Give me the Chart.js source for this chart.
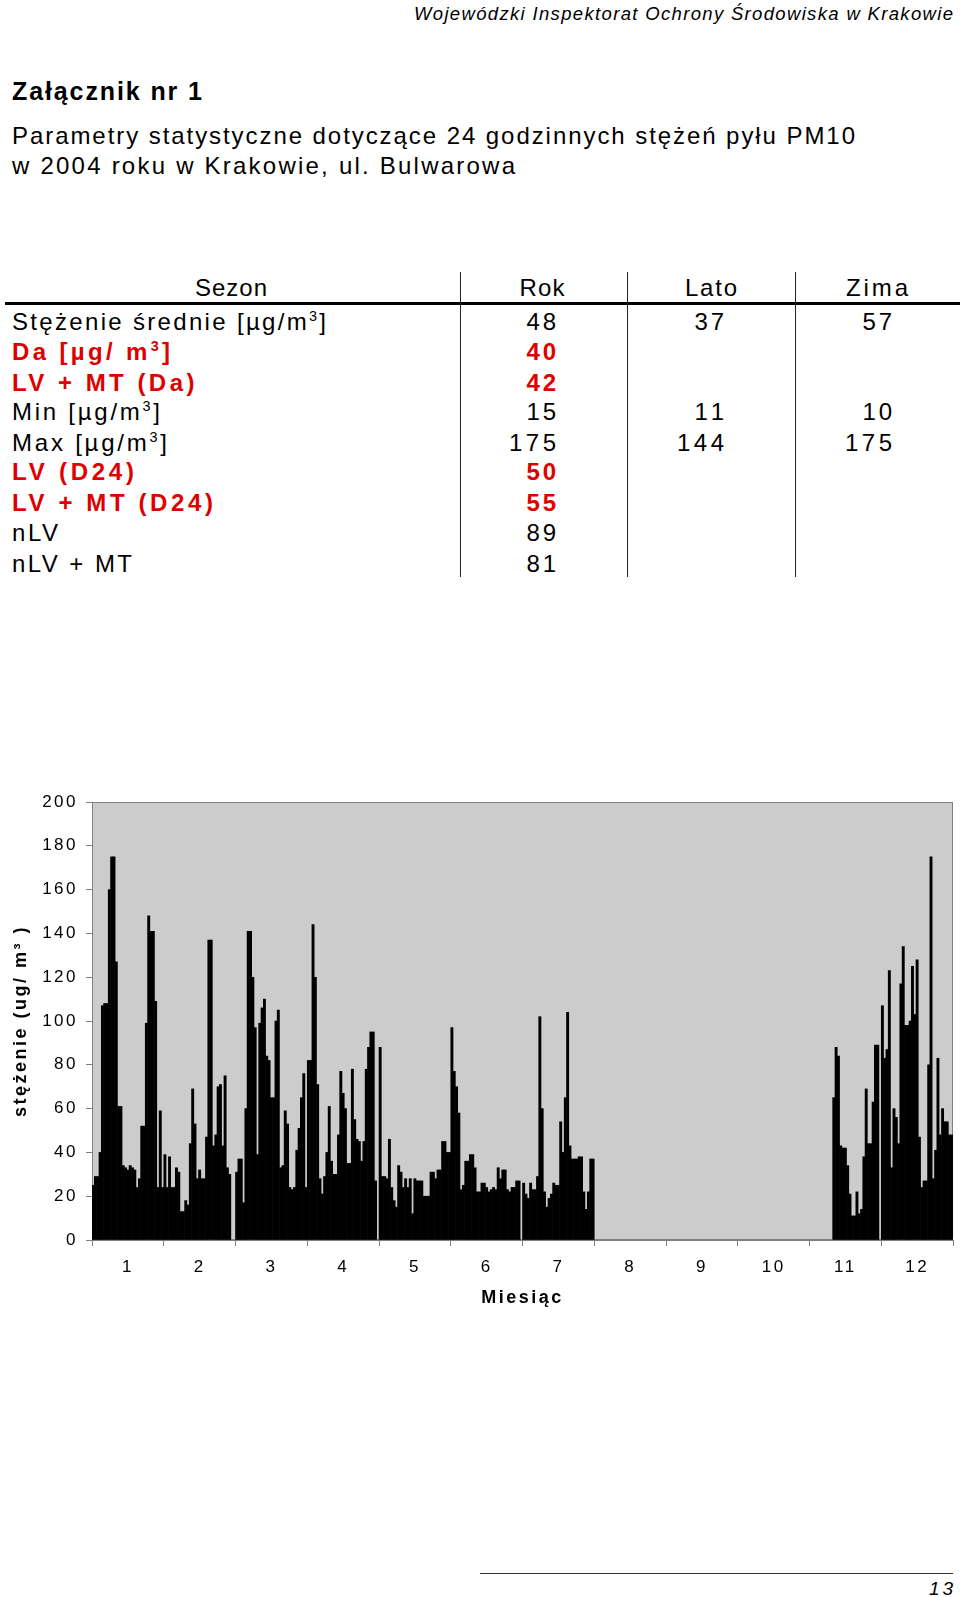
<!DOCTYPE html>
<html>
<head>
<meta charset="utf-8">
<script src="https://cdn.jsdelivr.net/npm/chart.js@4.4.1/dist/chart.umd.min.js"></script>
<style>
html, body { margin: 0; padding: 0; background: #fff; }
body { width: 960px; height: 1597px; position: relative; overflow: hidden; font-family: "Liberation Sans", Arial, sans-serif; }
.txt { position: absolute; left: 0; top: 0; white-space: nowrap; line-height: 1; }
.txt sup { font-size: 60%; vertical-align: 0.6em; line-height: 0; }
.rule { position: absolute; }
#wrap { position: absolute; left: 0; top: 770px; width: 960px; height: 550px; }
</style>
</head>
<body>
<div id="wrap"><canvas id="canvas" width="960" height="550"></canvas></div>
<script>
'use strict';

// page texts
const headerText = 'Wojewódzki Inspektorat Ochrony Środowiska w Krakowie';
const titleText = 'Załącznik nr 1';
const subtitleLines = ['Parametry statystyczne dotyczące 24 godzinnych stężeń pyłu PM10',
   'w 2004 roku w Krakowie, ul. Bulwarowa'];
const pageNumber = '13';

// table
const seasons = ['Sezon', 'Rok', 'Lato', 'Zima'];
const rowLabels = ['Stężenie średnie [µg/m<sup>3</sup>]', 'Da [µg/ m<sup>3</sup>]', 'LV + MT (Da)',
   'Min [µg/m<sup>3</sup>]', 'Max [µg/m<sup>3</sup>]', 'LV (D24)', 'LV + MT (D24)', 'nLV', 'nLV + MT'];
const rowIsLimit = [false, true, true, false, false, true, true, false, false];
const rokValues = [48, 40, 42, 15, 175, 50, 55, 89, 81];
const latoValues = [37, null, null, 11, 144, null, null, null, null];
const zimaValues = [57, null, null, 10, 175, null, null, null, null];

// chart: daily PM10, 31 slots per month (null = no such day / no measurement)
const monthLabels = ['1', '2', '3', '4', '5', '6', '7', '8', '9', '10', '11', '12'];
const jan = [25, 29, 29, 40, 107, 108, 108, 160, 175, 175, 127, 61, 61, 34, 33, 32, 34, 33, 32, 24,
   28, 52, 52, 99, 148, 141, 141, 109, 24, 59, 24];
const feb = [39, 24, 38, 24, 24, 33, 31, 13, 13, 18, 16, 44, 69, 53, 28, 32, 28, 28, 47, 137,
   137, 43, 48, 70, 71, 43, 75, 33, 30, null, null];
const mar = [31, 37, 37, 17, 60, 141, 141, 120, 97, 39, 99, 106, 110, 84, 82, 65, 65, 100, 105, 33,
   34, 59, 53, 24, 23, 24, 41, 51, 65, 76, 24];
const apr = [82, 82, 144, 120, 71, 28, 21, 29, 40, 61, 36, 30, 30, 48, 77, 67, 60, 35, 35, 78,
   55, 46, 45, 36, 45, 78, 88, 95, 95, 27, null];
const may = [88, 29, 29, 28, 46, 24, 18, 15, 34, 31, 24, 28, 24, 28, 12, 28, 27, 27, 27, 20,
   20, 20, 31, 31, 28, 32, 32, 45, 45, 40, 40];
const jun = [97, 77, 70, 58, 23, 25, 36, 36, 39, 39, 33, 22, 22, 26, 26, 24, 22, 23, 24, 23,
   33, 28, 32, 32, 23, 22, 24, 24, 27, 27, null];
const jul = [26, 21, 19, 26, 23, 23, 29, 102, 60, 22, 15, 19, 21, 26, 25, 25, 54, 40, 65, 104,
   43, 37, 37, 37, 38, 38, 22, 14, 22, 37, 37];
const aug = [];
const sep = [];
const oct = [];
const nov = [null, null, null, null, null, null, null, null, null, null,
   65, 88, 84, 43, 42, 42, 34, 21, 11, 11, 22, 12, 14, 38, 69, 44, 44, 63, 89, 89, null];
const dec = [107, 83, 87, 123, 33, 60, 56, 44, 117, 134, 98, 98, 100, 125, 103, 128, 47, 24, 27, 27,
   80, 175, 28, 41, 83, 48, 60, 54, 54, 48, 48];

const months = [jan, feb, mar, apr, may, jun, jul, aug, sep, oct, nov, dec];

let slotLabels = [];
let values = [];
months.forEach((month, m) => {
   for (let d = 0; d < 31; d++) {
      slotLabels.push(`${d + 1}.${m + 1}`);
      values.push(d < month.length ? month[d] : null);
   }
});

// ---- text and rules of the page ----
function place(html, x, y, font, align, width, color) {
   let el = document.createElement('div');
   el.className = 'txt';
   el.style.font = font;
   el.style.lineHeight = '1';
   el.style.color = color || '#000';
   el.innerHTML = html;
   document.body.appendChild(el);
   let n = el.textContent.length;
   let ls = 0;
   if (width) {
      ls = (width - el.getBoundingClientRect().width) / Math.max(n - 1, 1);
   }
   el.style.letterSpacing = ls + 'px';
   let r = el.getBoundingClientRect();
   let w = r.width - ls;
   let left = x;
   if (align === 'right') left = x - w;
   if (align === 'center') left = x - w / 2;
   el.style.left = left + 'px';
   el.style.top = (y - r.height / 2) + 'px';
   return el;
}

function rule(x, y, w, h, color) {
   let el = document.createElement('div');
   el.className = 'rule';
   el.style.left = x + 'px';
   el.style.top = y + 'px';
   el.style.width = w + 'px';
   el.style.height = h + 'px';
   el.style.background = color || '#000';
   document.body.appendChild(el);
}

const RED = '#e00000';
const FAM = '"Liberation Sans", Arial, sans-serif';

place(headerText, 953, 14, `italic 18.5px ${FAM}`, 'right', 539);
place(titleText, 12, 91, `bold 25px ${FAM}`, 'left', 190);
place(subtitleLines[0], 12, 136, `24px ${FAM}`, 'left', 843);
place(subtitleLines[1], 12, 166, `24px ${FAM}`, 'left', 503);

let headX = [231, 542, 711, 877];
let headW = [72, 45, 52, 62];
seasons.forEach((s, i) => place(s, headX[i], 288, `24px ${FAM}`, 'center', headW[i]));

rule(5, 301.5, 955, 3, '#000');
[460, 627, 795].forEach(x => rule(x, 272, 1, 305, '#222'));

let rowY = [322, 352, 383, 412, 443, 472, 503, 533, 564];
let rowW = [314, 158, 182.5, 148, 155, 122, 201, 46, 120];
let valW = v => String(v).length === 3 ? 47 : 29.5;
rowLabels.forEach((label, i) => {
   let red = rowIsLimit[i];
   let font = `${red ? 'bold ' : ''}24px ${FAM}`;
   let color = red ? RED : '#000';
   place(label, 12, rowY[i], font, 'left', rowW[i], color);
   [[rokValues, 556], [latoValues, 724], [zimaValues, 892]].forEach(([col, xr]) => {
      if (col[i] !== null) place(String(col[i]), xr, rowY[i], font, 'right', valW(col[i]), color);
   });
});

rule(480, 1573, 473, 1, '#333');
place(pageNumber, 953, 1588, `italic 19px ${FAM}`, 'right', 24);

// ---- chart ----
const plotBackground = {
   id: 'plotBackground',
   beforeDraw(chart) {
      let {ctx, chartArea: a} = chart;
      ctx.save();
      ctx.fillStyle = '#cccccc';
      ctx.fillRect(a.left, a.top, a.right - a.left, a.bottom - a.top);
      ctx.strokeStyle = '#808080';
      ctx.lineWidth = 1;
      ctx.strokeRect(a.left + 0.5, a.top + 0.5, a.right - a.left - 1, a.bottom - a.top - 1);
      ctx.restore();
      ctx.letterSpacing = '2.5px';
   }
};

let tickFont = {family: FAM, size: 17};
let titleFont = {family: FAM, size: 18, weight: 'bold'};

let ctx = document.querySelector('#canvas').getContext('2d');
new Chart(ctx, {
   type: 'bar',
   data: {
      labels: slotLabels,
      datasets: [{
         data: values,
         xAxisID: 'x',
         yAxisID: 'y',
         backgroundColor: '#000000',
         borderWidth: 0,
         inflateAmount: 0.3,
         barPercentage: 1,
         categoryPercentage: 1
      }]
   },
   options: {
      responsive: false,
      animation: false,
      devicePixelRatio: 1,
      layout: {padding: {left: 0, right: 7, top: 32, bottom: 0}},
      plugins: {legend: {display: false}, tooltip: {enabled: false}},
      scales: {
         x: {type: 'category', display: false, offset: true},
         m: {
            type: 'category',
            labels: monthLabels,
            position: 'bottom',
            offset: true,
            afterFit: s => { s.height = 80; },
            grid: {drawOnChartArea: false, offset: true, tickLength: 6, color: '#808080'},
            border: {color: '#808080'},
            ticks: {autoSkip: false, maxRotation: 0, padding: 11, color: '#000', font: tickFont},
            title: {display: true, text: 'Miesiąc', color: '#000', font: titleFont, padding: {top: 0, bottom: 11}}
         },
         y: {
            min: 0,
            max: 200,
            afterFit: s => { s.width = 92; },
            grid: {drawOnChartArea: false, tickLength: 6, color: '#808080'},
            border: {color: '#808080'},
            ticks: {stepSize: 20, padding: 8, color: '#000', font: tickFont},
            title: {display: true, text: 'stężenie (ug/ m³ )', color: '#000', font: titleFont, padding: {top: 10, bottom: 0}}
         }
      }
   },
   plugins: [plotBackground]
});
</script>
</body>
</html>
